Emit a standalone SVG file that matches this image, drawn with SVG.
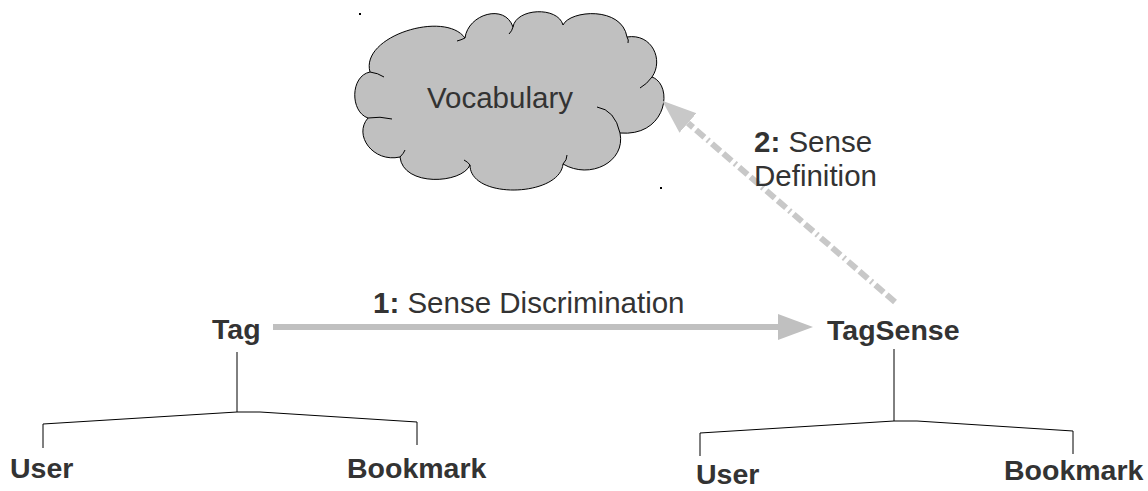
<svg xmlns="http://www.w3.org/2000/svg" width="1148" height="491" viewBox="0 0 1148 491">
<style>
.t{font-family:"Liberation Sans",Arial,sans-serif;fill:#333333}
.b{font-weight:bold;font-size:28.5px}
.r{font-size:29.5px}
.tree{fill:none;stroke:#000;stroke-width:1}
.crease{fill:none;stroke:#000;stroke-width:1}
</style>
<defs>
<marker id="ah1" markerUnits="userSpaceOnUse" markerWidth="36" markerHeight="28" refX="0" refY="13" orient="auto">
<path d="M0,0 L35,13 L0,26 z" fill="#c0c0c0"/>
</marker>
<marker id="ah2" markerUnits="userSpaceOnUse" markerWidth="36" markerHeight="28" refX="0" refY="13" orient="auto">
<path d="M0,0 L34,13 L0,26 z" fill="#c8c8c8"/>
</marker>
</defs>
<rect width="1148" height="491" fill="#ffffff"/>
<g id="vocabulary">
<path d="M370,72 C360,36 445,10 465,38 C468,14 505,3 513,27 C516,8 558,6 563,25 C570,10 622,6 627,37 C652,33 664,60 652,77 C674,85 667,137 620,133 C626,162 590,180 563,164 C560,197 470,200 470,165 C462,184 403,187 400,157 C373,163 353,135 368,118 C350,112 350,76 370,72 Z" fill="#c0c0c0" stroke="#000" stroke-width="1"/>
<path class="crease" d="M370,72 Q378,73 384,77"/>
<path class="crease" d="M465,38 Q461,40 457,41"/>
<path class="crease" d="M513,27 Q512,31 509,34"/>
<path class="crease" d="M627,37 Q629,40 628,43"/>
<path class="crease" d="M652,77 Q647,84 640,88"/>
<path class="crease" d="M597,107 Q615,110 620,133"/>
<path class="crease" d="M563,164 Q567,160 567,155"/>
<path class="crease" d="M470,165 Q468,162 464,160"/>
<path class="crease" d="M400,157 Q404,153 405,150"/>
<path class="crease" d="M368,118 Q380,116 392,119"/>
<text class="t r" x="427" y="108">Vocabulary</text>
</g>
<rect x="359" y="13" width="2" height="2" fill="#000"/>
<rect x="660" y="187" width="2" height="2" fill="#000"/>
<g id="connectors">
<line x1="273" y1="327" x2="778" y2="327" stroke="#c0c0c0" stroke-width="6" marker-end="url(#ah1)"/>
<line x1="895" y1="302" x2="688" y2="123" stroke="#c8c8c8" stroke-width="6" stroke-dasharray="11 4 11 4 2 4" marker-end="url(#ah2)"/>
<text class="t r" x="373" y="313"><tspan font-weight="bold">1:</tspan> Sense Discrimination</text>
<text class="t r" x="754" y="152"><tspan font-weight="bold">2:</tspan> Sense</text>
<text class="t r" x="754" y="186">Definition</text>
<path class="tree" d="M237,352 L237,412 M43,448 L43,424 L237,412 L260,412 L417,422 L417,445"/>
<path class="tree" d="M894,349 L894,421 M700,456 L700,433 L894,421 L917,421 L1073,431 L1073,454"/>
</g>
<g id="tag"><text class="t b" x="212" y="339">Tag</text></g>
<g id="tagsense"><text class="t b" x="827" y="340">TagSense</text></g>
<g id="user1"><text class="t b" x="10" y="478">User</text></g>
<g id="bookmark1"><text class="t b" x="347" y="478">Bookmark</text></g>
<g id="user2"><text class="t b" x="696" y="484">User</text></g>
<g id="bookmark2"><text class="t b" x="1004" y="480">Bookmark</text></g>
</svg>
